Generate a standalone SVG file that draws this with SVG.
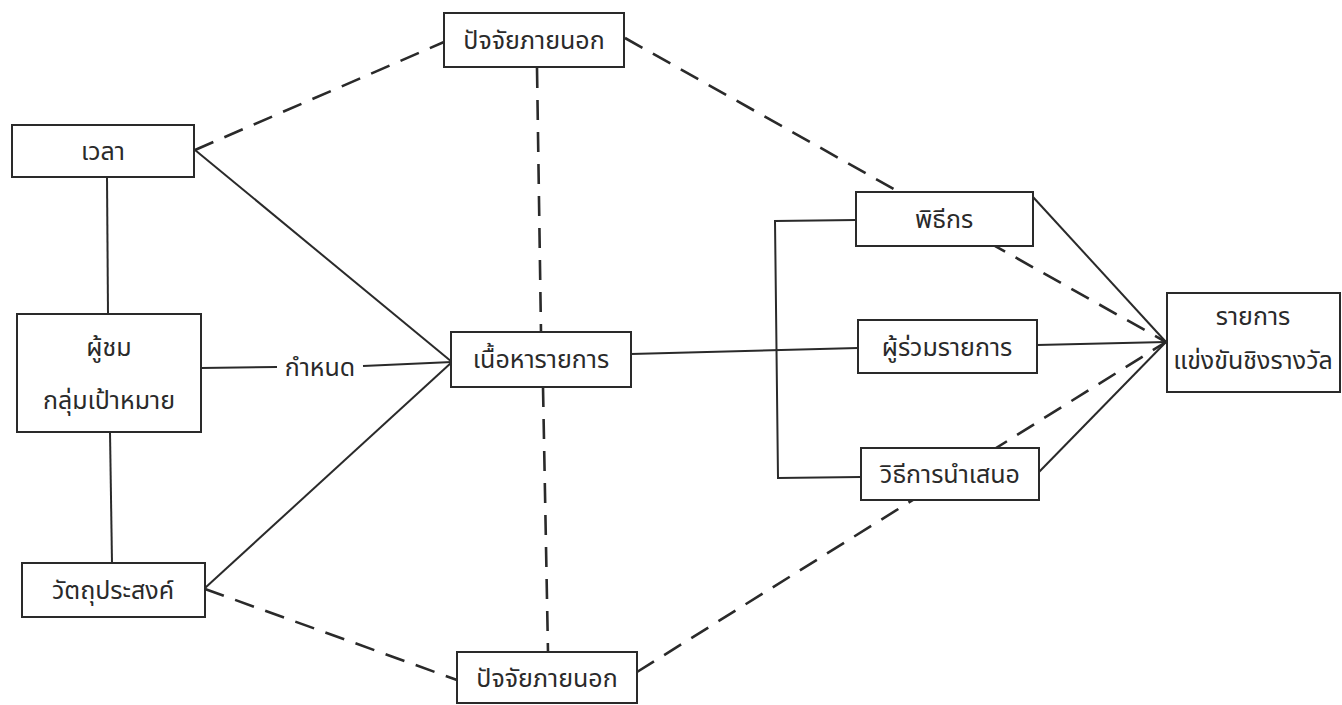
<svg xmlns="http://www.w3.org/2000/svg" width="1342" height="705" viewBox="0 0 1342 705">
<style>
.box{fill:#fff;stroke:#2a2a2a;stroke-width:2}
.ln{stroke:#2a2a2a;stroke-width:2;fill:none}
.ds{stroke:#2a2a2a;stroke-width:2.6;fill:none;stroke-dasharray:20 12}
text{font-family:"Noto Sans Thai","Noto Sans","DejaVu Sans",sans-serif;font-size:25px;fill:#2a2a2a;text-anchor:middle}
</style>
<rect width="1342" height="705" fill="#fff"/>
<g id="connectors">
<line class="ds" x1="195" y1="150" x2="444" y2="42"/>
<line class="ds" x1="625" y1="38" x2="1166" y2="342"/>
<line class="ds" x1="537" y1="68" x2="541" y2="332"/>
<line class="ds" x1="543" y1="387" x2="548" y2="652"/>
<line class="ds" x1="205" y1="589" x2="457" y2="680"/>
<line class="ds" x1="637" y1="672" x2="1166" y2="342"/>
<line class="ln" x1="107" y1="177" x2="108" y2="314"/>
<line class="ln" x1="110" y1="432" x2="112" y2="563"/>
<line class="ln" x1="195" y1="150" x2="452" y2="362"/>
<line class="ln" x1="205" y1="588" x2="452" y2="362"/>
<line class="ln" x1="201" y1="368" x2="277" y2="367"/>
<line class="ln" x1="363" y1="366" x2="452" y2="362"/>
<line class="ln" x1="631" y1="354" x2="858" y2="348"/>
<polyline class="ln" points="856,220 775,221 778,478 861,477"/>
<line class="ln" x1="1033" y1="197" x2="1166" y2="342"/>
<line class="ln" x1="1037" y1="345" x2="1166" y2="342"/>
<line class="ln" x1="1039" y1="472" x2="1166" y2="342"/>
<text x="320" y="376">กำหนด</text>
</g>
<g id="n-time"><rect class="box" x="12" y="125" width="182" height="52"/><text x="103" y="160">เวลา</text></g>
<g id="n-ext-top"><rect class="box" x="444" y="13" width="180" height="54"/><text x="534" y="49">ปัจจัยภายนอก</text></g>
<g id="n-audience"><rect class="box" x="17" y="314" width="184" height="118"/><text x="109" y="356">ผู้ชม</text><text x="109" y="409">กลุ่มเป้าหมาย</text></g>
<g id="n-objective"><rect class="box" x="22" y="563" width="183" height="54"/><text x="113" y="599">วัตถุประสงค์</text></g>
<g id="n-content"><rect class="box" x="451" y="332" width="180" height="55"/><text x="541" y="368">เนื้อหารายการ</text></g>
<g id="n-ext-bottom"><rect class="box" x="457" y="652" width="180" height="51"/><text x="547" y="687">ปัจจัยภายนอก</text></g>
<g id="n-host"><rect class="box" x="856" y="192" width="177" height="54"/><text x="944" y="228">พิธีกร</text></g>
<g id="n-participant"><rect class="box" x="858" y="320" width="179" height="53"/><text x="947" y="356">ผู้ร่วมรายการ</text></g>
<g id="n-method"><rect class="box" x="861" y="448" width="178" height="52"/><text x="950" y="483">วิธีการนำเสนอ</text></g>
<g id="n-program"><rect class="box" x="1167" y="293" width="173" height="99"/><text x="1253" y="325">รายการ</text><text x="1253" y="369">แข่งขันชิงรางวัล</text></g>
</svg>
